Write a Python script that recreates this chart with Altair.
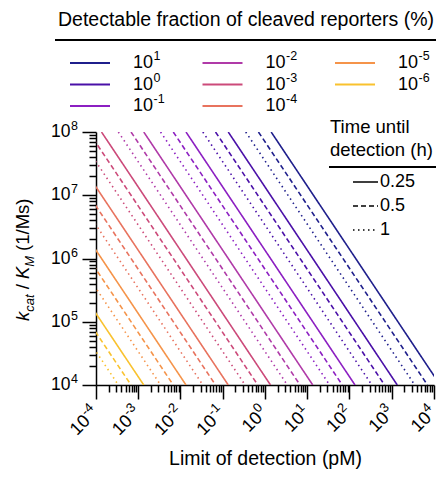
import altair as alt
import pandas as pd

# ---- data ----
fraction_exps = ["1", "0", "-1", "-2", "-3", "-4", "-5", "-6"]   # detectable fraction = 10^exp %
fraction_colors = ["#1f1f8c", "#4a10a8", "#8c1fc2", "#b03aa8", "#cc4a7a",
                   "#e8735e", "#f5944a", "#f9c22e"]
time_labels = ["0.25", "0.5", "1"]
time_dashes = [[1, 0], [5, 3], [1.5, 3.5]]

# limit of detection (pM) where each line meets kcat/KM = 1e8 and 1e4
kcat_top = 1e8
kcat_bottom = 1e4
lod_top_025 = [1.4, 0.135, 0.0135, 1.35e-3, 1.35e-4, 1.35e-5, 1.35e-6, 1.35e-7]
lod_top_05 = [0.7, 0.0675, 6.75e-3, 6.75e-4, 6.75e-5, 6.75e-6, 6.75e-7, 6.75e-8]
lod_top_1 = [0.35, 0.0338, 3.38e-3, 3.38e-4, 3.38e-5, 3.38e-6, 3.38e-7, 3.38e-8]
lod_bottom_025 = [14000, 1350, 135, 13.5, 1.35, 0.135, 0.0135, 1.35e-3]
lod_bottom_05 = [7000, 675, 67.5, 6.75, 0.675, 0.0675, 6.75e-3, 6.75e-4]
lod_bottom_1 = [3500, 338, 33.8, 3.38, 0.338, 0.0338, 3.38e-3, 3.38e-4]

x_major = [1e-4, 1e-3, 1e-2, 1e-1, 1e0, 1e1, 1e2, 1e3, 1e4]
x_major_exps = ["-4", "-3", "-2", "-1", "0", "1", "2", "3", "4"]
y_major = [1e4, 1e5, 1e6, 1e7, 1e8]
y_major_exps = ["4", "5", "6", "7", "8"]

x_ticks = x_major + [m * d for d in x_major[:-1] for m in range(2, 10)]
y_ticks = y_major + [m * d for d in y_major[:-1] for m in range(2, 10)]

rows = []
for i, f in enumerate(fraction_exps):
    for t, tops, bots in zip(time_labels,
                             [lod_top_025, lod_top_05, lod_top_1],
                             [lod_bottom_025, lod_bottom_05, lod_bottom_1]):
        rows.append({"fraction": f, "time": t, "lod": tops[i], "kcat": kcat_top})
        rows.append({"fraction": f, "time": t, "lod": bots[i], "kcat": kcat_bottom})
df = pd.DataFrame(rows)

FONT = "Liberation Sans"
W, H = 338, 253
color_scale = alt.Scale(domain=fraction_exps, range=fraction_colors)
dash_scale = alt.Scale(domain=time_labels, range=time_dashes)
x_scale = alt.Scale(type="log", domain=[1e-4, 1e4], nice=False)
y_scale = alt.Scale(type="log", domain=[1e4, 1e8], nice=False)

is_major = "abs(log(datum.value)/LN10 - round(log(datum.value)/LN10)) < 1e-6"
tick_size = {"condition": {"test": is_major, "value": 14}, "value": 7}
common_axis = dict(
    labels=False, tickSize=tick_size, tickWidth=1.5, tickColor="black",
    domainColor="black", domainWidth=1.5, grid=False,
)

lines = alt.Chart(df).mark_line(clip=True, strokeWidth=1.6, strokeCap="butt").encode(
    x=alt.X("lod:Q", scale=x_scale,
            axis=alt.Axis(values=x_ticks, title="Limit of detection (pM)",
                          titleFontSize=19.5, titleFont=FONT, titleFontWeight="normal",
                          titleColor="black", titleY=79, titleBaseline="alphabetic",
                          **common_axis)),
    y=alt.Y("kcat:Q", scale=y_scale,
            axis=alt.Axis(values=y_ticks, title=None, **common_axis)),
    color=alt.Color("fraction:N", scale=color_scale, legend=None),
    strokeDash=alt.StrokeDash("time:N", scale=dash_scale, legend=None),
)

one = pd.DataFrame({"k": [0]})

# ---- tick labels 10^n with real superscripts ----
XL_Y = H + 25
xl = alt.Chart(pd.DataFrame({"v": x_major, "e": x_major_exps}))
x_exp = xl.mark_text(angle=315, align="right", baseline="middle", fontSize=13,
                     font=FONT, color="black", dy=-6.5).encode(
    x=alt.X("v:Q", scale=x_scale, axis=None), y=alt.value(XL_Y), text="e:N")
x_ten_neg = xl.transform_filter("datum.v < 1").mark_text(
    angle=315, align="right", baseline="middle", fontSize=18, font=FONT,
    color="black", dx=-12).encode(
    x=alt.X("v:Q", scale=x_scale, axis=None), y=alt.value(XL_Y), text=alt.value("10"))
x_ten_pos = xl.transform_filter("datum.v >= 1").mark_text(
    angle=315, align="right", baseline="middle", fontSize=18, font=FONT,
    color="black", dx=-7.5).encode(
    x=alt.X("v:Q", scale=x_scale, axis=None), y=alt.value(XL_Y), text=alt.value("10"))

yl = alt.Chart(pd.DataFrame({"v": y_major, "e": y_major_exps}))
y_exp = yl.mark_text(align="right", baseline="middle", fontSize=12.5, font=FONT,
                     color="black", dy=-6).encode(
    x=alt.value(-18), y=alt.Y("v:Q", scale=y_scale, axis=None), text="e:N")
y_ten = yl.mark_text(align="right", baseline="middle", fontSize=17.5, font=FONT,
                     color="black").encode(
    x=alt.value(-25.5), y=alt.Y("v:Q", scale=y_scale, axis=None), text=alt.value("10"))

# ---- fraction legend ----
leg_df = pd.DataFrame({"fraction": fraction_exps})
leg_base = alt.Chart(leg_df).transform_window(idx="row_number()").transform_calculate(
    lx1="-26 + 132.5*floor((datum.idx-1)/3)",
    ly="-69 + 21.5*((datum.idx-1)%3)",
).transform_calculate(lx2="datum.lx1 + 40", tx="datum.lx1 + 63", ex="datum.lx1 + 83.5")
leg_rules = leg_base.mark_rule(strokeWidth=2).encode(
    x=alt.X("lx1:Q", scale=None, axis=None), x2="lx2:Q",
    y=alt.Y("ly:Q", scale=None, axis=None),
    color=alt.Color("fraction:N", scale=color_scale, legend=None),
)
leg_ten = leg_base.mark_text(align="left", baseline="middle", fontSize=18,
                             font=FONT, color="black").encode(
    x=alt.X("tx:Q", scale=None, axis=None),
    y=alt.Y("ly:Q", scale=None, axis=None), text=alt.value("10"))
leg_exp = leg_base.mark_text(align="left", baseline="middle", fontSize=12.5,
                             font=FONT, color="black", dy=-7).encode(
    x=alt.X("ex:Q", scale=None, axis=None),
    y=alt.Y("ly:Q", scale=None, axis=None), text="fraction:N")
leg_title = alt.Chart(one).mark_text(align="center", baseline="middle", fontSize=19.5,
                                     font=FONT, color="black").encode(
    x=alt.value(150), y=alt.value(-112),
    text=alt.value("Detectable fraction of cleaved reporters (%)"))
leg_line = alt.Chart(one).mark_rule(strokeWidth=2, color="black").encode(
    x=alt.value(-41), x2=alt.value(W + 2), y=alt.value(-92))

# ---- time legend ----
t_df = pd.DataFrame({"time": time_labels})
t_base = alt.Chart(t_df).transform_window(idx="row_number()").transform_calculate(
    ly="50 + 24*(datum.idx-1)")
t_rules = t_base.mark_rule(strokeWidth=1.6, color="black").encode(
    x=alt.value(257), x2=alt.value(282),
    y=alt.Y("ly:Q", scale=None, axis=None),
    strokeDash=alt.StrokeDash("time:N", scale=dash_scale, legend=None),
)
t_text = t_base.mark_text(align="left", baseline="middle", fontSize=18,
                          font=FONT, color="black").encode(
    x=alt.value(284), y=alt.Y("ly:Q", scale=None, axis=None), text="time:N")
t_title1 = alt.Chart(one).mark_text(align="left", baseline="middle", fontSize=18.5,
                                    font=FONT, color="black").encode(
    x=alt.value(234), y=alt.value(-5), text=alt.value("Time until"))
t_title2 = alt.Chart(one).mark_text(align="left", baseline="middle", fontSize=18.5,
                                    font=FONT, color="black").encode(
    x=alt.value(234), y=alt.value(18), text=alt.value("detection (h)"))
t_line = alt.Chart(one).mark_rule(strokeWidth=2, color="black").encode(
    x=alt.value(233), x2=alt.value(W + 2), y=alt.value(35))

# ---- y title: k_cat / K_M (1/Ms) ----
def piece(txt, y, x, size, italic):
    return alt.Chart(one).mark_text(
        align="left", baseline="alphabetic", angle=270, fontSize=size, font=FONT,
        fontStyle="italic" if italic else "normal", color="black",
    ).encode(x=alt.value(x), y=alt.value(y), text=alt.value(txt))

ytitle = [
    piece("k", 189, -67, 18.5, True),
    piece("cat", 179.75, -62, 13, True),
    piece("/", 157.3, -67, 18.5, False),
    piece("K", 147.1, -67, 18.5, True),
    piece("M", 134.8, -62, 13, True),
    piece("(1/Ms)", 118.9, -67, 18.5, False),
]

chart = alt.layer(
    lines, x_exp, x_ten_neg, x_ten_pos, y_exp, y_ten,
    leg_rules, leg_ten, leg_exp, leg_title, leg_line,
    t_rules, t_text, t_title1, t_title2, t_line, *ytitle,
).resolve_scale(x="independent", y="independent").properties(
    width=W, height=H,
    padding={"left": 88, "top": 124, "right": 2, "bottom": 84},
    autosize=alt.AutoSizeParams(type="none"),
).configure_view(stroke=None)

chart.save("out.html", embed_options={"renderer": "svg", "actions": False})
